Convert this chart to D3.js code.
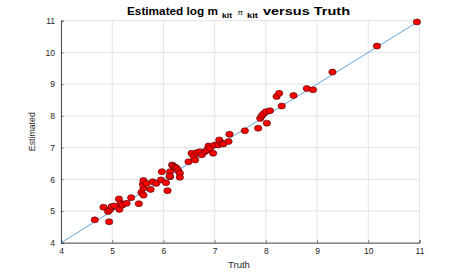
<!DOCTYPE html>
<html>
<head>
<meta charset="utf-8">
<script src="https://cdn.jsdelivr.net/npm/d3@7"></script>
<style>
  body { margin: 0; background: #fff; }
  svg { display: block; font-family: "Liberation Sans", Arial, sans-serif; }
</style>
</head>
<body>
<div id="chart"></div>
<script>
// values
const truth = [4.66, 4.94, 4.83, 4.92, 4.96, 4.99, 5.05, 5.14, 5.13, 5.17, 5.20, 5.28, 5.37, 5.52,
  5.57, 5.61, 5.60, 5.61, 5.61, 5.67, 5.75, 5.79, 5.86, 5.95, 5.97, 6.05, 6.08, 6.13, 6.13, 6.12,
  6.17, 6.19, 6.23, 6.26, 6.29, 6.32, 6.32, 6.49, 6.55, 6.59, 6.62, 6.65, 6.71, 6.75, 6.81, 6.85,
  6.88, 6.91, 6.97, 7.00, 7.07, 7.09, 7.14, 7.17, 7.27, 7.29, 7.59, 7.85, 7.89, 7.92, 7.95, 8.00,
  8.02, 8.08, 8.21, 8.26, 8.31, 8.54, 8.80, 8.92, 9.30, 10.17, 10.95];
const estimated = [4.72, 4.66, 5.12, 4.98, 5.05, 5.14, 5.16, 5.05, 5.38, 5.24, 5.19, 5.24, 5.42, 5.23,
  5.58, 5.72, 5.84, 5.96, 5.50, 5.87, 5.68, 5.92, 5.87, 5.98, 6.24, 5.89, 5.64, 6.08, 6.24, 6.10,
  6.45, 6.42, 6.38, 6.35, 6.27, 6.19, 6.06, 6.55, 6.82, 6.72, 6.61, 6.84, 6.87, 6.77, 6.87, 6.92,
  7.05, 6.98, 6.82, 7.08, 7.08, 7.24, 7.14, 7.11, 7.19, 7.42, 7.53, 7.61, 7.92, 8.00, 8.06, 8.13,
  7.77, 8.16, 8.61, 8.71, 8.31, 8.64, 8.86, 8.82, 9.38, 10.20, 10.96];
const ticks = [4, 5, 6, 7, 8, 9, 10, 11];
const refLine = [4, 11];

const width = 463, height = 273;
const margin = { top: 20.7, right: 43.5, bottom: 30.3, left: 61 };
const w = width - margin.left - margin.right;
const h = height - margin.top - margin.bottom;

const svg = d3.select("#chart").append("svg")
    .attr("width", width)
    .attr("height", height);

const g = svg.append("g")
    .attr("transform", `translate(${margin.left},${margin.top})`);

const x = d3.scaleLinear().domain([4, 11]).range([0, w]);
const y = d3.scaleLinear().domain([4, 11]).range([h, 0]);

// grid
g.append("g").selectAll("line")
    .data(ticks)
    .join("line")
    .attr("x1", d => x(d)).attr("x2", d => x(d))
    .attr("y1", 0).attr("y2", h)
    .attr("stroke", "#e3e3e3")
    .attr("stroke-width", 1);

g.append("g").selectAll("line")
    .data(ticks)
    .join("line")
    .attr("x1", 0).attr("x2", w)
    .attr("y1", d => y(d)).attr("y2", d => y(d))
    .attr("stroke", "#e3e3e3")
    .attr("stroke-width", 1);

// axes
const xAxis = g.append("g")
    .attr("transform", `translate(0,${h})`)
    .call(d3.axisBottom(x).tickValues(ticks).tickFormat(d3.format("d")).tickSize(-2.5).tickPadding(5));
const yAxis = g.append("g")
    .call(d3.axisLeft(y).tickValues(ticks).tickFormat(d3.format("d")).tickSize(-2.5).tickPadding(6));

[xAxis, yAxis].forEach(ax => {
  ax.select(".domain").attr("stroke", "#262626").attr("stroke-width", 0.8);
  ax.selectAll(".tick line").attr("stroke", "#262626").attr("stroke-width", 0.6);
  ax.selectAll("text")
      .attr("fill", "#262626")
      .style("font-family", "Liberation Sans, Arial, sans-serif")
      .style("font-size", "8.5px");
});

// y = x reference line
g.append("line")
    .attr("x1", x(refLine[0])).attr("y1", y(refLine[0]))
    .attr("x2", x(refLine[1])).attr("y2", y(refLine[1]))
    .attr("stroke", "#3a8ed4")
    .attr("stroke-width", 0.8);

// points
g.append("g").selectAll("ellipse")
    .data(truth.map((t, i) => ({ t, e: estimated[i] })))
    .join("ellipse")
    .attr("cx", d => x(d.t))
    .attr("cy", d => y(d.e))
    .attr("rx", 3.7)
    .attr("ry", 3)
    .attr("fill", "#ff0000")
    .attr("stroke", "#3a0000")
    .attr("stroke-width", 0.6);

// title, pieces placed to follow the original spacing
const titleParts = [
  { text: "Estimated log m", x: 127, len: 91, size: 11, weight: "bold", dy: 0 },
  { text: "kit", x: 222, len: 10, size: 7, weight: "bold", dy: 2.8 },
  { text: "π", x: 237.5, len: 5.5, size: 8, weight: "normal", dy: 0 },
  { text: "kit", x: 247, len: 11, size: 7, weight: "bold", dy: 2.8 },
  { text: "versus Truth", x: 263, len: 87, size: 11, weight: "bold", dy: 0 }
];
svg.append("g").selectAll("text")
    .data(titleParts)
    .join("text")
    .attr("x", d => d.x)
    .attr("y", d => 15 + d.dy)
    .attr("textLength", d => d.len)
    .attr("lengthAdjust", "spacingAndGlyphs")
    .attr("fill", "#000")
    .style("font-size", d => d.size + "px")
    .style("font-weight", d => d.weight)
    .text(d => d.text);

svg.append("text")
    .attr("x", 239)
    .attr("y", 267.5)
    .attr("text-anchor", "middle")
    .attr("fill", "#262626")
    .style("font-size", "9.5px")
    .text("Truth");

svg.append("text")
    .attr("transform", `translate(34.5,${margin.top + h / 2}) rotate(-90)`)
    .attr("text-anchor", "middle")
    .attr("fill", "#262626")
    .attr("textLength", 39)
    .attr("lengthAdjust", "spacingAndGlyphs")
    .style("font-size", "9.5px")
    .text("Estimated");
</script>
</body>
</html>
